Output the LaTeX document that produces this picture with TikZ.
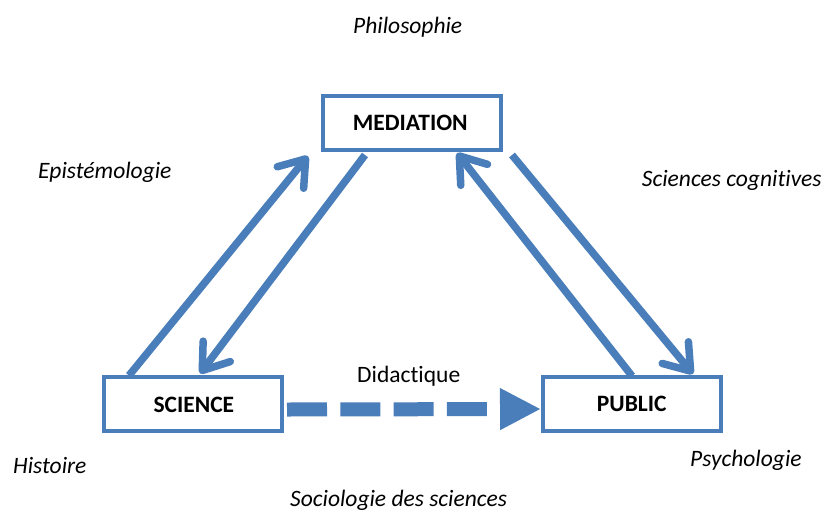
\documentclass[tikz,border=0pt]{standalone}
\usepackage{fontspec}
\setmainfont[Ligatures={NoCommon}]{Carlito}
\usetikzlibrary{arrows.meta,calc}
\definecolor{mblue}{HTML}{4A7EBB}
\tikzset{
  boxnode/.style={draw=mblue, line width=4pt, fill=white, minimum width=178pt, minimum height=54pt, inner sep=0pt, font=\fontsize{23.5}{28}\selectfont\bfseries},
  lbl/.style={anchor=base west, inner sep=0pt, font=\fontsize{23.5}{28}\selectfont\itshape},
  link/.style={draw=mblue, line width=7.5pt, -{Straight Barb[length=24pt,width=34pt,round]}},
  didarrow/.style={draw=mblue, line width=14pt, dash pattern=on 40pt off 13.3pt, -{Triangle[length=41pt,width=39pt]}}
}
\begin{document}
\begin{tikzpicture}[x=1pt,y=-1pt]
\useasboundingbox (0,0) rectangle (826,514);
\node[boxnode] (med) at (411.5,122.5) {\phantom{X}};
\node[boxnode] (sci) at (193,403.5) {\phantom{X}};
\node[boxnode] (pub) at (632,404) {\phantom{X}};
\node[lbl, font=\fontsize{23.5}{28}\selectfont\bfseries] (medt) at (352.7,130) {MEDIATION};
\node[lbl, font=\fontsize{23.5}{28}\selectfont\bfseries] (scit) at (153.3,412.3) {SCIENCE};
\node[lbl, font=\fontsize{23.5}{28}\selectfont\bfseries] (pubt) at (596.7,411.7) {PUBLIC};
% connector ends
\coordinate (a1s) at ($(sci.north west)+(27,1)$);
\coordinate (a1e) at (308,156);
\coordinate (a2s) at (365,155);
\coordinate (a2e) at ($(sci.north west)+(98,-1)$);
\coordinate (a3s) at ($(pub.north west)+(91,1)$);
\coordinate (a3e) at (457,153);
\coordinate (a4s) at (512,155);
\coordinate (a4e) at ($(pub.north west)+(152,-1)$);
\draw[link] (a1s) -- (a1e);
\draw[link] (a2s) -- (a2e);
\draw[link] (a3s) -- (a3e);
\draw[link] (a4s) -- (a4e);
\draw[didarrow] ($(sci.east)+(3,6)$) -- ($(pub.west)+(0,5)$);
\node[lbl, font=\fontsize{23.5}{28}\selectfont] (did) at (357,382.7) {Didactique};
\node[lbl] (phi) at (353,33.3) {Philosophie};
\node[lbl] (epi) at (38,178.3) {Epistémologie};
\node[lbl] (cog) at (641.7,186.7) {Sciences cognitives};
\node[lbl] (his) at (13,473.3) {Histoire};
\node[lbl] (psy) at (690,466.7) {Psychologie};
\node[lbl] (soc) at (290,506.7) {Sociologie des sciences};
\end{tikzpicture}
\end{document}
